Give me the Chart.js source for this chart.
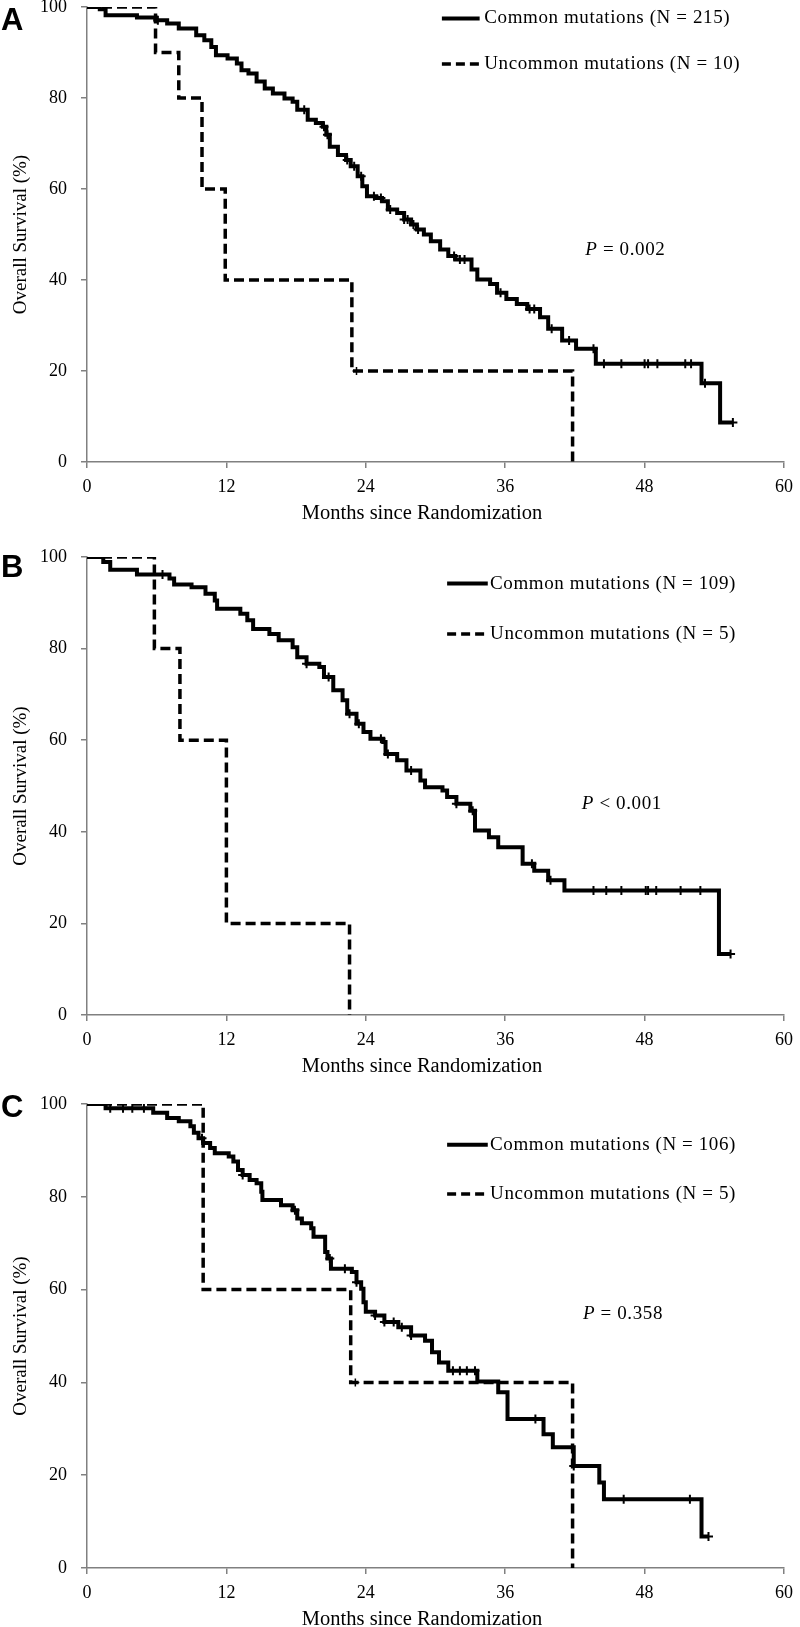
<!DOCTYPE html>
<html><head><meta charset="utf-8">
<script src="https://cdn.jsdelivr.net/npm/chart.js@4.4.1/dist/chart.umd.min.js"></script>
<style>
html,body{margin:0;padding:0;background:#fff;overflow:hidden;width:800px;height:1627px;}
.panel{position:absolute;left:0;width:800px;}
canvas{display:block;}
</style></head><body>
<div class="panel" style="top:0px;height:532px"><canvas id="cA" width="800" height="532" style="width:800px;height:532px"></canvas></div>
<div class="panel" style="top:532px;height:553px"><canvas id="cB" width="800" height="553" style="width:800px;height:553px"></canvas></div>
<div class="panel" style="top:1085px;height:553px"><canvas id="cC" width="800" height="553" style="width:800px;height:553px"></canvas></div>
<script>
// ---------- Axis ticks ----------
const xTicks = [0, 12, 24, 36, 48, 60];
const yTicks = [0, 20, 40, 60, 80, 100];
const xTitle = 'Months since Randomization';
const yTitle = 'Overall Survival (%)';

// ---------- Panel A ----------
const aComT = [1.1, 1.6, 4.3, 5.9, 6.9, 7.9, 9.4, 10.1, 10.7, 11.1, 12.1, 12.9, 13.3, 13.9, 14.6, 15.3, 16.0, 17.0, 17.7, 18.1, 19.0, 19.7, 20.3, 20.6, 20.9, 21.6, 22.3, 22.7, 23.3, 23.7, 24.1, 24.9, 25.4, 25.9, 26.7, 27.3, 27.9, 28.4, 29.0, 29.6, 30.4, 31.1, 31.7, 33.1, 33.6, 34.7, 35.3, 36.1, 37.0, 37.9, 39.0, 39.7, 40.9, 42.1, 43.8, 52.9, 54.5];
const aComS = [99.5, 98.2, 97.7, 97.1, 96.4, 95.3, 93.8, 92.7, 91.2, 89.4, 88.7, 87.6, 86.1, 85.4, 83.6, 82.1, 81.0, 79.9, 79.2, 77.4, 75.2, 74.5, 73.7, 71.9, 69.3, 67.5, 66.4, 65.0, 62.8, 60.6, 58.4, 58.0, 57.3, 55.5, 54.7, 53.3, 52.2, 51.1, 50.0, 48.5, 46.7, 45.3, 44.5, 42.3, 40.1, 39.1, 37.2, 35.8, 34.7, 33.6, 31.8, 29.3, 26.7, 24.9, 21.6, 17.3, 8.7];
const aComEnd = 55.6;
const aComCens = [6.1, 18.7, 20.4, 20.7, 22.4, 23.0, 23.6, 24.7, 25.3, 26.1, 27.3, 27.6, 28.1, 28.5, 31.6, 32.1, 32.5, 35.6, 38.1, 38.5, 40.0, 41.5, 43.6, 44.5, 46.0, 48.0, 48.3, 49.1, 51.5, 52.0, 53.2, 55.6];
const aUncT = [5.9, 7.9, 9.9, 11.9, 22.8, 41.8];
const aUncS = [90, 80, 60, 40, 20, 0];
const aUncCens = [23.2];
const aLabels = ['Common mutations (N = 215)', 'Uncommon mutations (N = 10)'];
const aP = ['P', ' = 0.002'];

// ---------- Panel B ----------
const bComT = [1.4, 2.0, 4.3, 7.1, 7.5, 9.0, 10.2, 11.0, 11.2, 13.2, 13.8, 14.3, 15.7, 16.5, 17.7, 18.1, 18.9, 20.0, 20.4, 21.2, 22.0, 22.4, 23.2, 23.8, 24.4, 25.5, 25.7, 26.7, 27.5, 28.7, 29.1, 30.6, 31.0, 31.8, 33.0, 33.4, 34.6, 35.4, 37.5, 38.5, 39.7, 41.1, 54.4];
const bComS = [98.9, 97.2, 96.2, 95.3, 94.0, 93.4, 92.0, 90.5, 88.7, 87.6, 86.2, 84.3, 83.2, 81.8, 80.3, 78.1, 76.7, 76.0, 73.8, 70.9, 68.7, 65.8, 63.6, 61.8, 60.3, 59.6, 57.0, 55.6, 53.4, 51.2, 49.7, 49.0, 47.6, 46.1, 44.6, 40.3, 38.8, 36.6, 33.0, 31.5, 29.4, 27.2, 13.3];
const bComEnd = 55.4;
const bComCens = [6.5, 18.9, 20.8, 22.6, 23.4, 25.3, 25.9, 27.9, 31.8, 33.2, 38.3, 39.9, 43.6, 44.7, 46.0, 48.1, 48.3, 49.0, 51.1, 52.8, 55.4];
const bUncT = [5.8, 8.0, 12.0, 22.6];
const bUncS = [80, 60, 20, 0];
const bUncCens = [];
const bLabels = ['Common mutations (N = 109)', 'Uncommon mutations (N = 5)'];
const bP = ['P', ' < 0.001'];

// ---------- Panel C ----------
const cComT = [1.6, 5.7, 6.9, 7.9, 8.9, 9.2, 9.6, 10.0, 10.6, 11.0, 12.2, 12.6, 13.0, 13.4, 14.0, 14.6, 15.0, 15.1, 16.7, 17.7, 18.1, 18.5, 19.3, 19.5, 20.5, 20.7, 21.0, 22.8, 23.2, 23.6, 23.8, 24.0, 24.8, 25.6, 26.8, 27.9, 29.1, 29.7, 30.3, 31.1, 33.6, 35.4, 36.2, 39.3, 40.1, 41.9, 44.1, 44.5, 52.9];
const cComS = [99.1, 98.1, 97.0, 96.3, 95.2, 93.8, 92.6, 91.6, 90.5, 89.4, 88.7, 87.6, 85.8, 84.7, 83.6, 82.9, 81.1, 79.3, 78.2, 77.1, 75.3, 74.3, 73.2, 71.4, 68.1, 66.7, 64.5, 63.8, 61.6, 60.2, 57.3, 55.2, 54.4, 53.0, 51.9, 50.1, 49.0, 46.5, 44.3, 42.5, 40.2, 37.9, 32.1, 28.8, 26.0, 22.0, 18.4, 14.8, 6.8];
const cComEnd = 53.5;
const cComCens = [2.0, 3.1, 3.9, 4.9, 9.9, 13.4, 17.9, 20.9, 22.2, 23.2, 24.8, 25.6, 26.4, 27.1, 27.9, 31.5, 32.1, 32.7, 33.4, 38.6, 41.9, 46.2, 51.9, 53.5];
const cUncT = [10.0, 22.7, 41.8];
const cUncS = [60, 40, 0];
const cUncCens = [23.1];
const cLabels = ['Common mutations (N = 106)', 'Uncommon mutations (N = 5)'];
const cP = ['P', ' = 0.358'];

// ---------- helpers ----------
const SERIF = "'Times New Roman', 'Liberation Serif', serif";
const AXIS_GRAY = '#808080';

function kmPoints(T, S, end) {
  const pts = [{x: 0, y: 100}];
  T.forEach((t, i) => pts.push({x: t, y: S[i]}));
  if (end !== undefined) pts.push({x: end, y: S[S.length - 1]});
  return pts;
}
function survAt(T, S, t) {
  let v = 100;
  for (let i = 0; i < T.length; i++) { if (T[i] <= t) v = S[i]; }
  return v;
}
function censPoints(T, S, C) { return C.map(c => ({x: c, y: survAt(T, S, c)})); }

const panelText = {
  id: 'panelText',
  afterDraw(chart, args, o) {
    const {ctx, chartArea} = chart;
    const xs = chart.scales.x, ys = chart.scales.y;
    ctx.save();
    ctx.fillStyle = '#000';
    // panel letter
    ctx.font = 'bold 31px "Liberation Sans", Arial, sans-serif';
    ctx.textAlign = 'left';
    ctx.textBaseline = 'alphabetic';
    ctx.fillText(o.letter, o.letterX, o.letterY + 11);
    // x-axis title
    ctx.font = '20.5px ' + SERIF;
    ctx.textAlign = 'center';
    ctx.textBaseline = 'middle';
    ctx.fillText(xTitle, o.titleX, chartArea.bottom + 52);
    // legend
    ctx.textAlign = 'left';
    ctx.font = '19px ' + SERIF;
    if ('letterSpacing' in ctx) ctx.letterSpacing = '0.6px';
    const lx0 = xs.getPixelForValue(o.lx0), lx1 = xs.getPixelForValue(o.lx1), tx = xs.getPixelForValue(o.tx);
    o.labels.forEach((lab, i) => {
      const py = ys.getPixelForValue(o.ly[i]);
      ctx.lineWidth = i === 1 ? 3.5 : 4;
      ctx.strokeStyle = '#000';
      ctx.setLineDash(i === 1 ? [9, 5] : []);
      ctx.beginPath(); ctx.moveTo(lx0, py); ctx.lineTo(lx1, py); ctx.stroke();
      ctx.setLineDash([]);
      ctx.fillText(lab, tx, py);
    });
    // P value
    const px = xs.getPixelForValue(o.px), pyy = ys.getPixelForValue(o.py);
    ctx.font = 'italic 19px ' + SERIF;
    ctx.fillText(o.p[0], px, pyy);
    const w = ctx.measureText(o.p[0]).width;
    ctx.font = '19px ' + SERIF;
    ctx.fillText(o.p[1], px + w, pyy);
    ctx.restore();
  }
};

function makeChart(id, d) {
  const datasets = [
    {data: kmPoints(d.uT, d.uS), stepped: true, borderColor: '#000', borderWidth: 3.5, borderDash: [10, 5], pointRadius: 0, fill: false},
    {data: kmPoints(d.cT, d.cS, d.cEnd), stepped: true, borderColor: '#000', borderWidth: 4, pointRadius: 0, fill: false},
    {data: censPoints(d.cT, d.cS, d.cC), showLine: false, pointStyle: 'cross', pointRadius: 4.5, borderColor: '#000', borderWidth: 2},
    {data: censPoints(d.uT, d.uS, d.uC), showLine: false, pointStyle: 'cross', pointRadius: 4, borderColor: '#000', borderWidth: 1.5}
  ];
  return new Chart(document.getElementById(id), {
    type: 'line',
    data: {datasets},
    plugins: [panelText],
    options: {
      responsive: false, animation: false, devicePixelRatio: 1,
      layout: {padding: {top: d.padTop, right: 16, left: 0, bottom: 0}},
      plugins: {
        legend: {display: false}, tooltip: {enabled: false},
        panelText: d.text
      },
      scales: {
        x: {
          type: 'linear', min: 0, max: 60,
          afterBuildTicks: s => { s.ticks = xTicks.map(v => ({value: v})); },
          afterFit: s => { s.height = 70; s.paddingLeft = 0; s.paddingRight = 0; },
          ticks: {color: '#000', font: {family: SERIF, size: 18}, padding: 8, maxRotation: 0, autoSkip: false},
          grid: {drawOnChartArea: false, drawTicks: true, tickLength: 6, color: AXIS_GRAY, lineWidth: 1.5},
          border: {color: AXIS_GRAY, width: 1.5},
          title: {display: false}
        },
        y: {
          type: 'linear', min: 0, max: 100,
          afterBuildTicks: s => { s.ticks = yTicks.map(v => ({value: v})); },
          afterFit: s => { s.width = 87; s.paddingTop = 0; s.paddingBottom = 0; },
          ticks: {color: '#000', font: {family: SERIF, size: 18}, padding: 14, autoSkip: false},
          grid: {drawOnChartArea: false, drawTicks: true, tickLength: 6, color: AXIS_GRAY, lineWidth: 1.5},
          border: {color: AXIS_GRAY, width: 1.5},
          title: {display: true, text: yTitle, color: '#000', font: {family: SERIF, size: 19}, padding: {top: 10, bottom: 0}}
        }
      }
    }
  });
}

makeChart('cA', {
  cT: aComT, cS: aComS, cEnd: aComEnd, cC: aComCens,
  uT: aUncT, uS: aUncS, uC: aUncCens, padTop: 7,
  text: {letter: 'A', letterX: 1, letterY: 19, titleX: 422, labels: aLabels, lx0: 30.55, lx1: 33.8, tx: 34.2, ly: [97.5, 87.5], p: aP, px: 42.9, py: 46.6}
});
makeChart('cB', {
  cT: bComT, cS: bComS, cEnd: bComEnd, cC: bComCens,
  uT: bUncT, uS: bUncS, uC: bUncCens, padTop: 25,
  text: {letter: 'B', letterX: 1, letterY: 34, titleX: 422, labels: bLabels, lx0: 31.0, lx1: 34.5, tx: 34.7, ly: [94.2, 83.2], p: bP, px: 42.6, py: 46.1}
});
makeChart('cC', {
  cT: cComT, cS: cComS, cEnd: cComEnd, cC: cComCens,
  uT: cUncT, uS: cUncS, uC: cUncCens, padTop: 19,
  text: {letter: 'C', letterX: 1, letterY: 21, titleX: 422, labels: cLabels, lx0: 31.0, lx1: 34.5, tx: 34.7, ly: [91.2, 80.6], p: cP, px: 42.7, py: 54.8}
});
</script>
</body></html>
